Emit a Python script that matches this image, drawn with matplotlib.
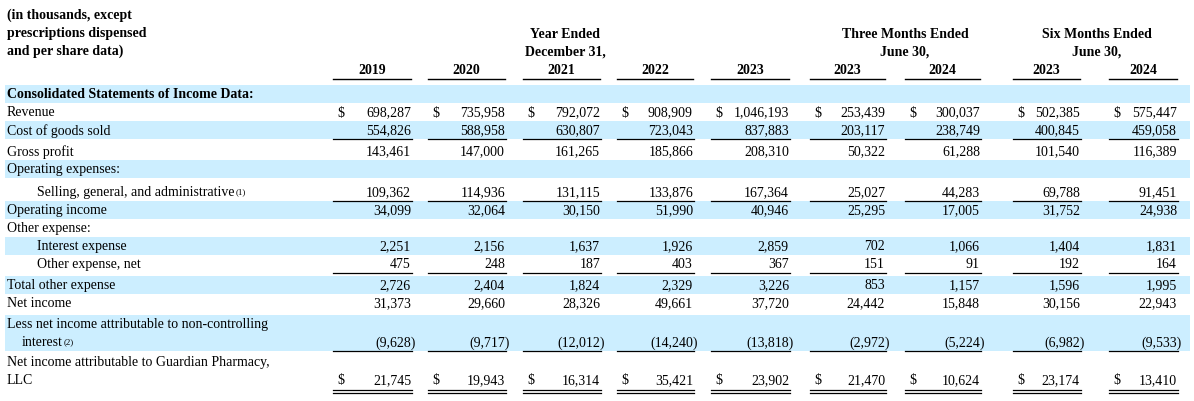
import matplotlib
matplotlib.use("Agg")
import matplotlib.pyplot as plt

plt.rcParams["font.family"] = ["Liberation Serif", "DejaVu Serif"]

periods = ["2019", "2020", "2021", "2022", "2023", "2023", "2024", "2023", "2024"]
col_right = [411, 505, 600, 693, 789, 885, 980, 1080, 1177]
col_left = [333, 428, 523, 617, 711, 810, 905, 1013, 1109]

revenue = ["698,287", "735,958", "792,072", "908,909", "1,046,193", "253,439", "300,037", "502,385", "575,447"]
cogs = ["554,826", "588,958", "630,807", "723,043", "837,883", "203,117", "238,749", "400,845", "459,058"]
gross = ["143,461", "147,000", "161,265", "185,866", "208,310", "50,322", "61,288", "101,540", "116,389"]
sga = ["109,362", "114,936", "131,115", "133,876", "167,364", "25,027", "44,283", "69,788", "91,451"]
op_income = ["34,099", "32,064", "30,150", "51,990", "40,946", "25,295", "17,005", "31,752", "24,938"]
interest = ["2,251", "2,156", "1,637", "1,926", "2,859", "702", "1,066", "1,404", "1,831"]
other_net = ["475", "248", "187", "403", "367", "151", "91", "192", "164"]
total_other = ["2,726", "2,404", "1,824", "2,329", "3,226", "853", "1,157", "1,596", "1,995"]
net_income = ["31,373", "29,660", "28,326", "49,661", "37,720", "24,442", "15,848", "30,156", "22,943"]
nci = ["(9,628)", "(9,717)", "(12,012)", "(14,240)", "(13,818)", "(2,972)", "(5,224)", "(6,982)", "(9,533)"]
net_guardian = ["21,745", "19,943", "16,314", "35,421", "23,902", "21,470", "10,624", "23,174", "13,410"]

# (label, indent, values, dollar, underline, shaded, y, bold)
rows = [
    ("Consolidated Statements of Income Data:", 0, None, False, None, True, 95, True),
    ("Revenue", 0, revenue, True, None, False, 113, False),
    ("Cost of goods sold", 0, cogs, False, "single", True, 131, False),
    ("Gross profit", 0, gross, False, None, False, 152, False),
    ("Operating expenses:", 0, None, False, None, True, 170, False),
    ("Selling, general, and administrative", 30, sga, False, "single", False, 193, False),
    ("Operating income", 0, op_income, False, None, True, 211, False),
    ("Other expense:", 0, None, False, None, False, 229, False),
    ("Interest expense", 30, interest, False, None, True, 247, False),
    ("Other expense, net", 30, other_net, False, "single", False, 265, False),
    ("Total other expense", 0, total_other, False, None, True, 286, False),
    ("Net income", 0, net_income, False, None, False, 304, False),
]

fig = plt.figure(figsize=(11.94, 4.02), dpi=100)
ax = fig.add_axes([0, 0, 1, 1])
ax.set_xlim(0, 1194)
ax.set_ylim(402, 0)
ax.axis("off")

SHADE = "#cceeff"
FS = 10

def shade(y0, y1):
    ax.fill_between([5, 1190], y0, y1, color=SHADE, lw=0, zorder=0)

for i, t in enumerate(["(in thousands, except", "prescriptions dispensed", "and per share data)"]):
    ax.text(7, 15 + i * 18, t, fontsize=FS, fontweight="bold", va="center")
for cx, lines in [(565, ["Year Ended", "December 31,"]), (905, ["Three Months Ended", "June 30,"]),
                  (1097, ["Six Months Ended", "June 30,"])]:
    for i, t in enumerate(lines):
        ax.text(cx, 34 + i * 18, t, fontsize=FS, fontweight="bold", va="center", ha="center")
for p, l, r in zip(periods, col_left, col_right):
    ax.text((l + r) / 2, 71, p, fontsize=FS, fontweight="bold", va="center", ha="center")
    ax.plot([l, r], [80, 80], color="black", lw=1)

def value_row(vals, y, dollar, underline):
    for v, l, r in zip(vals, col_left, col_right):
        xr = r + (5 if v.endswith(")") else 0)
        ax.text(xr, y, v, fontsize=FS, va="center", ha="right")
        if dollar:
            ax.text(l + 4, y, "$", fontsize=FS, va="center", ha="left")
        if underline == "single":
            ax.plot([l, r + 1], [y + 9, y + 9], color="black", lw=0.9)
        elif underline == "double":
            ax.plot([l, r + 1], [y + 10, y + 10], color="black", lw=0.9)
            ax.plot([l, r + 1], [y + 13, y + 13], color="black", lw=0.9)

def sup(txt_artist, s):
    ax.annotate(s, xy=(1, 1), xycoords=txt_artist, xytext=(0.5, -1),
                textcoords="offset points", fontsize=6.5, va="top", ha="left")

for label, ind, vals, dollar, ul, sh, y, bold in rows:
    if sh:
        shade(y - 9, y + 9)
    t = ax.text(7 + ind, y, label, fontsize=FS, va="center", fontweight="bold" if bold else "normal")
    if label.startswith("Selling"):
        sup(t, "(1)")
    if vals:
        value_row(vals, y, dollar, ul)

shade(316, 352)
ax.text(7, 325, "Less net income attributable to non-controlling", fontsize=FS, va="center")
t = ax.text(22, 343, "interest", fontsize=FS, va="center")
sup(t, "(2)")
value_row(nci, 343, False, "single")

ax.text(7, 363, "Net income attributable to Guardian Pharmacy,", fontsize=FS, va="center")
ax.text(7, 381, "LLC", fontsize=FS, va="center")
value_row(net_guardian, 381, True, "double")

fig.savefig("out.png", dpi=100)
